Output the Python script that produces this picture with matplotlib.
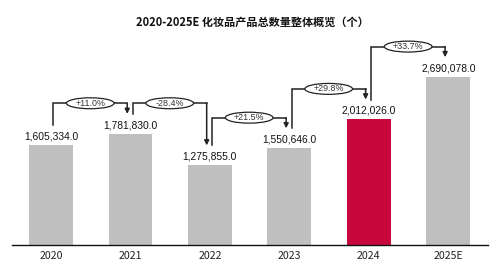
import matplotlib
matplotlib.use("Agg")
import matplotlib.pyplot as plt
from matplotlib.patches import Ellipse

# data
years = ["2020", "2021", "2022", "2023", "2024", "2025E"]
totals = [1605334.0, 1781830.0, 1275855.0, 1550646.0, 2012026.0, 2690078.0]
growth = ["+11.0%", "-28.4%", "+21.5%", "+29.8%", "+33.7%"]
highlight = "2024"

GRAY = "#BFBFBF"
RED = "#C8083C"
LINE = "#222222"

fig = plt.figure(figsize=(5.0, 2.68), dpi=100)
ax = fig.add_axes([0.024, 0.0858, 0.952, 0.745])

x = list(range(len(years)))
colors = [RED if y == highlight else GRAY for y in years]
ax.bar(x, totals, width=0.55, color=colors, zorder=2)

ax.set_xlim(-0.49, 5.5)
ax.set_ylim(0, 3.2e6)

for xi, v in zip(x, totals):
    ax.annotate(f"{v:,.1f}", xy=(xi, v), xytext=(0, 2.5), textcoords="offset points",
                ha="center", va="bottom", fontsize=7.4, family="Liberation Sans",
                color="#111111")

# growth brackets between consecutive bars
gap = 320000     # from bar top to bracket end
rise = 490000    # from taller bar top to horizontal run
for i, label in enumerate(growth):
    x0, x1 = x[i] + 0.03, x[i + 1] - 0.04
    y0 = totals[i] + gap
    y1 = totals[i + 1] + gap
    yh = max(totals[i], totals[i + 1]) + rise
    ax.plot([x0, x0, x1], [y0, yh, yh], color=LINE, lw=1.1, zorder=3,
            solid_joinstyle="miter", clip_on=False)
    ax.annotate("", xy=(x1, y1), xytext=(x1, yh),
                arrowprops=dict(arrowstyle="-|>", color=LINE, lw=1.1,
                                shrinkA=0, shrinkB=0, mutation_scale=7),
                annotation_clip=False)
    xm = (x0 + x1) / 2
    ax.add_patch(Ellipse((xm, yh), 0.6, 175000, facecolor="white",
                         edgecolor="#222222", lw=0.9, zorder=4, clip_on=False))
    ax.text(xm, yh, label, ha="center", va="center", fontsize=6.4,
            family="Liberation Sans", color="#333333", zorder=5)

for s in ["top", "right", "left"]:
    ax.spines[s].set_visible(False)
ax.spines["bottom"].set_color("#111111")
ax.spines["bottom"].set_linewidth(1.0)
ax.set_yticks([])
ax.set_xticks(x)
ax.set_xticklabels(years, fontsize=7.6, family="Noto Sans CJK SC", color="#222222")
ax.tick_params(axis="x", length=0, pad=4.5)

fig.text(0.504, 0.915, "2020-2025E 化妆品产品总数量整体概览（个）", ha="center",
         va="center", fontsize=8, fontweight="bold",
         family=["Noto Sans CJK SC", "DejaVu Sans"], color="#111111")

fig.savefig("out.png", dpi=100, facecolor="white")
